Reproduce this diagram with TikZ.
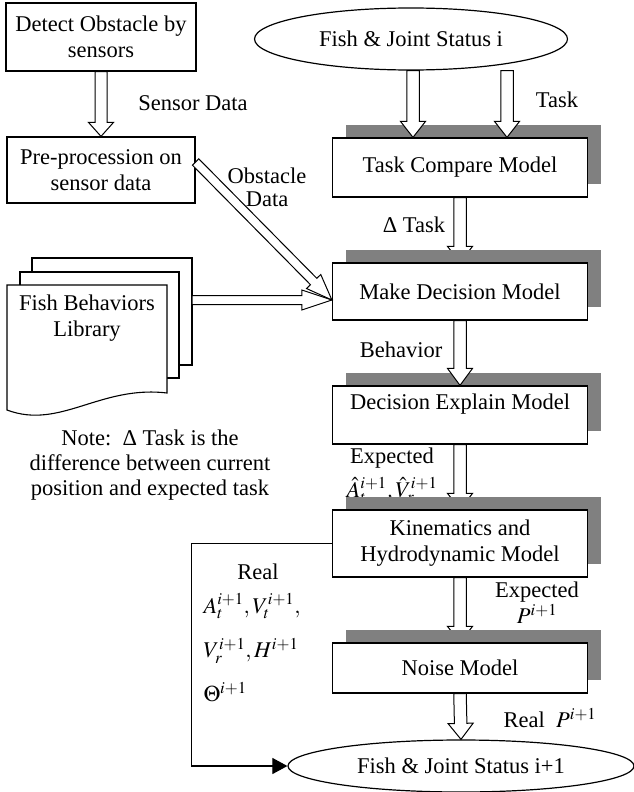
\documentclass[tikz,border=0pt]{standalone}
\usepackage{mathptmx}
\usepackage[no-math]{fontspec}
\setmainfont{Liberation Serif}
\usetikzlibrary{arrows.meta,shapes.geometric,shadows,calc}

\pgfdeclarelayer{background}
\pgfsetlayers{background,main}

% wide outlined arrow: from, to, half shaft, half head, head length
\newcommand{\hollowarrow}[5]{%
  \path (#1) coordinate (hastart) (#2) coordinate (hatip);
  \path ($(hatip)!#5!(hastart)$) coordinate (habase);
  \draw[hollow] ($(hastart)!#3!90:(hatip)$) -- ($(habase)!#3!90:(hatip)$)
    -- ($(habase)!#4!90:(hatip)$) -- (hatip) -- ($(habase)!#4!-90:(hatip)$)
    -- ($(habase)!#3!-90:(hatip)$) -- ($(hastart)!#3!-90:(hatip)$) -- cycle;
}

\begin{document}
\begin{tikzpicture}[x=1pt,y=-1pt,
  font=\fontsize{22.5}{26}\selectfont,align=center,
  box/.style={draw,line width=1.2pt,fill=white,minimum width=188pt,inner sep=2pt},
  model/.style={draw,line width=1.2pt,fill=white,minimum width=255pt,inner sep=2pt,
    general shadow={fill=black!50,shadow xshift=13pt,shadow yshift=13pt}},
  status/.style={draw,ellipse,line width=1.2pt,fill=white,inner sep=0pt},
  sheet/.style={draw,line width=1.1pt,fill=white},
  hollow/.style={draw,fill=white,line width=1pt,line join=miter},
  feedback/.style={line width=1.1pt,-{Triangle[length=15pt,width=16pt]}}
]
  \useasboundingbox (0,0) rectangle (634,792);

  % obstacle side
  \node[box,minimum width=190pt,minimum height=68pt] (detect) at (101,37) {Detect Obstacle by\\sensors};
  \node[box,minimum height=66pt] (prep) at (101,170) {Pre-procession on\\sensor data};

  % behaviour library, three stacked sheets
  \draw[sheet] (32,258) rectangle (192,365);
  \draw[sheet] (20,272) rectangle (179,378);
  \draw[sheet] (7,285) -- (167,285) -- (167,393) .. controls (100,385) and (60,430) .. (7,410) -- cycle;
  \node (library) at (87,318) {Fish Behaviors\\Library};
  \node[font=\fontsize{22.5}{25}\selectfont] (note) at (150,465)
    {Note:\ \ Δ Task is the\\difference between current\\position and expected task};

  % main chain
  \node[status,minimum width=313pt,minimum height=62pt] (start) at (411,39) {Fish \& Joint Status i};
  \node[model,minimum height=59pt] (task) at (460,167.5) {Task Compare Model};
  \node[model,minimum height=57pt] (decide) at (460,291.5) {Make Decision Model};
  \node[model,minimum height=58pt] (explain) at (460,415) {Decision Explain Model\\\mbox{}};
  \node[model,minimum height=67pt] (kinematic) at (460,543.5) {Kinematics and\\Hydrodynamic Model};
  \node[model,minimum height=50pt] (noise) at (460,668) {Noise Model};
  \node[status,minimum width=346pt,minimum height=52pt] (next) at (461,766) {Fish \& Joint Status i+1};

  \coordinate (taskinL) at ([xshift=-47pt]task.north);
  \coordinate (taskinR) at ([xshift=47pt]task.north);
  \coordinate (obsout) at ([yshift=8pt]prep.east);
  \coordinate (libout) at (192,300);
  \coordinate (merge) at (decide.west |- libout);

  % these run under the shadows
  \begin{pgfonlayer}{background}
    \hollowarrow{task.south}{decide.north}{6.25pt}{12.5pt}{16pt}
    \hollowarrow{explain.south}{kinematic.north}{6.25pt}{12.5pt}{16pt}
    \hollowarrow{kinematic.south}{noise.north}{6.25pt}{12.5pt}{16pt}
    \node (lblexpect) [anchor=north] at (392,444) {Expected\\[8pt]$\hat{A}_t^{i+1},\hat{V}_r^{i+1}$};
  \end{pgfonlayer}

  \hollowarrow{detect.south}{prep.north}{6pt}{12.5pt}{14pt}
  \hollowarrow{start.south -| taskinL}{taskinL}{6.25pt}{12.5pt}{16pt}
  \hollowarrow{start.south -| taskinR}{taskinR}{6.25pt}{12.5pt}{16pt}
  \hollowarrow{libout}{merge}{4.5pt}{10pt}{30pt}
  \hollowarrow{obsout}{merge}{4.5pt}{10pt}{26pt}
  \hollowarrow{decide.south}{explain.north}{6.25pt}{12.5pt}{17pt}
  \hollowarrow{noise.south}{next.north}{6.25pt}{12.5pt}{16pt}

  \draw[feedback] (kinematic.west) -- ++(-140,0) |- (next.west);

  % arrow labels
  \node (lblsensor) at (193,103) {Sensor Data};
  \node (lblobstacle) at (267,187) {Obstacle\\[-3pt]Data};
  \node (lbltask) at (557,100) {Task};
  \node (lbldelta) at (414,225) {Δ Task};
  \node (lblbehavior) at (401,350) {Behavior};
  \node (lblexpectp) at (537,603) {Expected\\$P^{i+1}$};
  \node (lblrealp) at (550,718) {Real\ \ $P^{i+1}$};
  \node (lblreal) at (258,572) {Real};
  \node (lblstate) [anchor=north west,align=left] at (200,590)
    {$A_t^{i+1},V_t^{i+1},$\\[18pt]$V_r^{i+1},H^{i+1}$\\[18pt]$\Theta^{i+1}$};
\end{tikzpicture}
\end{document}
